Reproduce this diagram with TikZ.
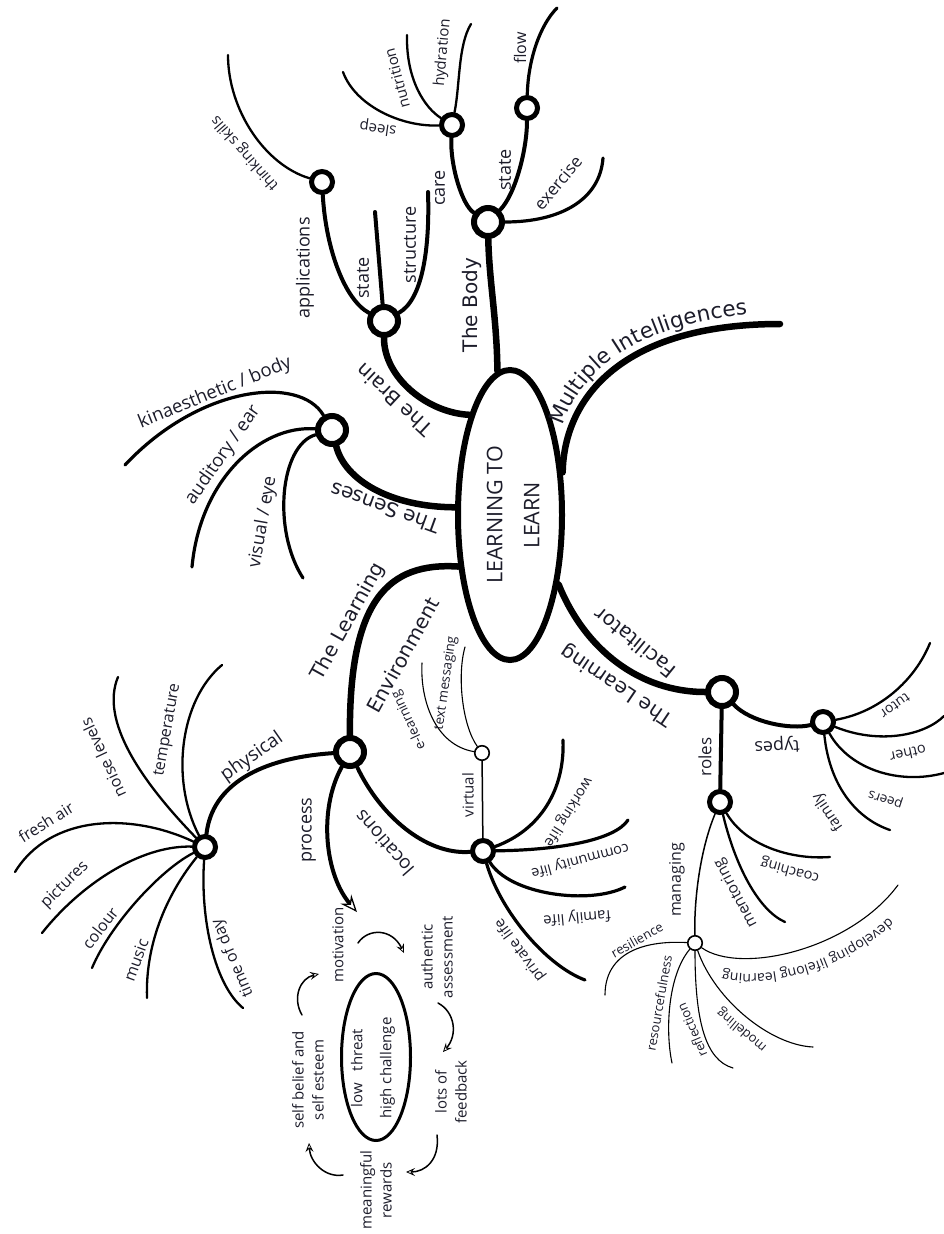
\documentclass[tikz,border=0pt]{standalone}
\usepackage{fontspec}
\newfontfamily\osans{Open Sans}
\newfontfamily\dsans{DejaVu Sans}
\usetikzlibrary{arrows.meta,shapes.geometric,backgrounds,decorations.text}
\definecolor{ink}{HTML}{1C1C2A}
\begin{document}
\begin{tikzpicture}[x=1pt,y=-1pt,
  main/.style={line width=6.5pt, line cap=round},
  sub/.style={line width=4pt, line cap=round},
  mid/.style={line width=3.2pt, line cap=round},
  leaf/.style={line width=2.3pt, line cap=round},
  thin/.style={line width=1.5pt, line cap=round},
  hair/.style={line width=1.1pt, line cap=round},
  hubbig/.style={circle, draw, fill=white, line width=6pt, minimum size=28pt, inner sep=0pt},
  hubmed/.style={circle, draw, fill=white, line width=5pt, minimum size=21pt, inner sep=0pt},
  hubsml/.style={circle, draw, fill=white, line width=1.6pt, minimum size=14.5pt, inner sep=0pt},
  lab/.style={font=\osans\fontsize{#1}{#1}\selectfont, inner sep=0pt, text=ink},
  big/.style={font=\dsans\fontsize{20}{22}\selectfont, inner sep=0pt, text=ink},
  cyclab/.style={font=\osans\fontsize{15}{20}\selectfont, inner sep=0pt, text=ink, align=center, rotate=90},
  bigtip/.style={-{Stealth[fill=white, line width=1.3pt, length=17pt, width=14pt, inset=6pt]}},
  smalltip/.style={-{Stealth[fill=white, line width=0.8pt, length=9pt, width=8pt, inset=3.5pt]}}
]
\useasboundingbox (0,0) rectangle (944,1234);

% ---------- central node ----------
\node[ellipse, draw, line width=6pt, fill=white, minimum width=104pt, minimum height=290pt] (ctr) at (510,515) {};
\node[rotate=90, font=\osans\fontsize{21.5}{37}\selectfont, align=center, text=ink, inner sep=0pt] (ctrt) at (513,515) {LEARNING TO\\LEARN};

% ---------- hubs ----------
\node[hubbig] (body) at (488,222) {};
\node[hubbig] (brain) at (384,321) {};
\node[hubbig] (senses) at (332,430) {};
\node[hubbig] (env) at (350,752) {};
\node[hubbig] (facil) at (722,692) {};
\node[hubmed] (sleepc) at (452,125) {};
\node[hubmed] (flowc) at (527,108) {};
\node[hubmed] (thinkc) at (322,182) {};
\node[hubmed] (physc) at (205,847) {};
\node[hubmed] (locc) at (483,851) {};
\node[hubmed] (typesc) at (823,722) {};
\node[hubmed] (rolesc) at (720,802) {};
\node[hubsml] (virc) at (482,753) {};
\node[hubsml] (manc) at (695,943) {};
\node[ellipse, draw, line width=3pt, minimum width=69pt, minimum height=167pt] (cyc) at (376,1057) {};

% ---------- free ends ----------
\coordinate (exE) at (603,158);
\coordinate (flowE) at (557,8);
\coordinate (sleepE) at (343,72);
\coordinate (nutE) at (407,35);
\coordinate (hydE) at (471,24);
\coordinate (bstE) at (375,212);
\coordinate (strE) at (428,192);
\coordinate (thE) at (228,55);
\coordinate (kinE) at (125,465);
\coordinate (audE) at (192,567);
\coordinate (visE) at (303,578);
\coordinate (miE) at (780,324);
\coordinate (frE) at (15,872);
\coordinate (picE) at (42,933);
\coordinate (colE) at (92,968);
\coordinate (musE) at (147,998);
\coordinate (timeE) at (243,1008);
\coordinate (noiE) at (118,677);
\coordinate (tempE) at (222,665);
\coordinate (procE) at (357,912);
\coordinate (workE) at (563,740);
\coordinate (comE) at (628,820);
\coordinate (famE) at (625,887);
\coordinate (privE) at (585,980);
\coordinate (elE) at (422,663);
\coordinate (txE) at (465,647);
\coordinate (tutE) at (930,643);
\coordinate (oE1) at (944,716);
\coordinate (oE2) at (944,773);
\coordinate (peE) at (890,830);
\coordinate (coaE) at (830,857);
\coordinate (menE) at (785,922);
\coordinate (resE) at (605,995);
\coordinate (rsfE) at (672,1063);
\coordinate (refE) at (733,1068);
\coordinate (modE) at (813,1047);
\coordinate (devE) at (898,885);
\coordinate (a1s) at (358,943);  \coordinate (a1e) at (404,953);
\coordinate (a2s) at (438,1003); \coordinate (a2e) at (443,1052);
\coordinate (a3s) at (437,1135); \coordinate (a3e) at (406,1172);
\coordinate (a4s) at (343,1175); \coordinate (a4e) at (309,1143);
\coordinate (a5s) at (302,1015); \coordinate (a5e) at (319,974);

% ---------- connectors ----------
\begin{pgfonlayer}{background}
% main branches
\draw[main] (ctr.95) .. controls (497,320) and (489,280) .. (body);
\draw[main] (ctr.112) .. controls (428,413) and (384,378) .. (brain);
\draw[main] (ctr.172) .. controls (390,507) and (345,480) .. (senses);
\draw[main] (ctr.225) .. controls (388,562) and (349,600) .. (env);
\draw[main] (ctr.-55) .. controls (585,650) and (640,692) .. (facil);
\draw[main] (ctr.39) .. controls (564,398) and (622,324) .. (miE);
% the body
\draw[sub] (body) .. controls (462,205) and (450,165) .. (sleepc);
\draw[sub] (body) .. controls (515,195) and (527,150) .. (flowc);
\draw[mid] (body) .. controls (560,222) and (600,200) .. (exE);
\draw[mid] (flowc) .. controls (528,60) and (540,25) .. (flowE);
\draw[leaf] (sleepc) .. controls (400,127) and (355,105) .. (sleepE);
\draw[leaf] (sleepc) .. controls (425,108) and (406,80) .. (nutE);
\draw[leaf] (sleepc) .. controls (460,85) and (458,45) .. (hydE);
% the brain
\draw[sub] (brain) .. controls (345,300) and (326,250) .. (thinkc);
\draw[sub] (brain) -- (bstE);
\draw[sub] (brain) .. controls (422,300) and (430,250) .. (strE);
\draw[leaf] (thinkc) .. controls (265,165) and (228,110) .. (thE);
% the senses
\draw[mid] (senses) .. controls (300,375) and (200,385) .. (kinE);
\draw[mid] (senses) .. controls (260,425) and (200,480) .. (audE);
\draw[mid] (senses) .. controls (280,445) and (272,530) .. (visE);
% the learning environment
\draw[sub] (env) .. controls (260,758) and (212,785) .. (physc);
\draw[sub, bigtip] (env) .. controls (318,810) and (325,875) .. (procE);
\draw[sub] (env) .. controls (380,815) and (425,855) .. (locc);
\draw[leaf] (physc) .. controls (130,812) and (50,815) .. (frE);
\draw[leaf] (physc) .. controls (140,845) and (80,885) .. (picE);
\draw[leaf] (physc) .. controls (160,870) and (110,925) .. (colE);
\draw[leaf] (physc) .. controls (170,890) and (145,940) .. (musE);
\draw[leaf] (physc) .. controls (200,920) and (215,985) .. (timeE);
\draw[leaf] (physc) .. controls (140,780) and (100,720) .. (noiE);
\draw[leaf] (physc) .. controls (170,780) and (180,700) .. (tempE);
\draw[thin] (locc) -- (virc);
\draw[mid] (locc) .. controls (540,830) and (565,790) .. (workE);
\draw[mid] (locc) .. controls (560,850) and (615,840) .. (comE);
\draw[mid] (locc) .. controls (510,895) and (590,905) .. (famE);
\draw[mid] (locc) .. controls (500,910) and (545,965) .. (privE);
\draw[hair] (virc) .. controls (435,745) and (420,700) .. (elE);
\draw[hair] (virc) .. controls (462,725) and (457,675) .. (txE);
% process cycle
\draw[thin, smalltip] (a1s) .. controls (368,928) and (392,928) .. (a1e);
\draw[thin, smalltip] (a2s) .. controls (455,1012) and (458,1035) .. (a2e);
\draw[thin, smalltip] (a3s) .. controls (440,1160) and (425,1172) .. (a3e);
\draw[thin, smalltip] (a4s) .. controls (325,1178) and (310,1162) .. (a4e);
\draw[thin, smalltip] (a5s) .. controls (292,998) and (300,978) .. (a5e);
% the learning facilitator
\draw[sub] (facil) -- (rolesc);
\draw[sub] (facil) .. controls (750,722) and (790,730) .. (typesc);
\draw[leaf] (typesc) .. controls (880,712) and (915,680) .. (tutE);
\draw[leaf] (typesc) .. controls (880,745) and (925,735) .. (oE1);
\draw[leaf] (typesc) .. controls (850,770) and (900,785) .. (oE2);
\draw[leaf] (typesc) .. controls (830,790) and (860,820) .. (peE);
\draw[leaf] (rolesc) .. controls (745,845) and (790,860) .. (coaE);
\draw[leaf] (rolesc) .. controls (735,865) and (758,910) .. (menE);
\draw[thin] (rolesc) .. controls (700,850) and (694,900) .. (manc);
\draw[hair] (manc) .. controls (640,940) and (605,955) .. (resE);
\draw[hair] (manc) .. controls (668,975) and (665,1030) .. (rsfE);
\draw[hair] (manc) .. controls (695,1020) and (705,1060) .. (refE);
\draw[hair] (manc) .. controls (715,1000) and (770,1045) .. (modE);
\draw[hair] (manc) .. controls (740,975) and (850,950) .. (devE);
\end{pgfonlayer}

% ---------- main branch labels ----------
\node[big, rotate=90] (lBody) at (472,305) {The Body};
\node[big, rotate=137] (lBrain) at (394,400) {The Brain};
\node[big, rotate=160] (lSenses) at (385,508) {The Senses};
\path[decorate, decoration={text along path, text align=center, text color=ink,
  text={|\dsans\fontsize{21.5}{24}\selectfont|Multiple Intelligences}}]
  (556,470) .. controls (556,392) and (616,314) .. (792,312);
\node[big, rotate=61] (lEnv1) at (348,622) {The Learning};
\node[big, rotate=61] (lEnv2) at (403,655) {Environment};
\node[big, rotate=141] (lFac2) at (635,643) {Facilitator};
\node[big, rotate=146] (lFac1) at (617,685) {The Learning};

% ---------- body labels ----------
\node[lab=18, rotate=90] (lCare) at (440,188) {care};
\node[lab=18, rotate=90] (lState) at (505,170) {state};
\node[lab=17, rotate=50] (lExer) at (558,183) {exercise};
\node[lab=16, rotate=90] (lFlow) at (520,48) {flow};
\node[lab=15, rotate=172] (lSleep) at (378,128) {sleep};
\node[lab=15, rotate=105] (lNut) at (397,78) {nutrition};
\node[lab=15, rotate=85] (lHyd) at (443,53) {hydration};
% brain labels
\node[lab=18, rotate=90] (lApp) at (305,268) {applications};
\node[lab=18, rotate=90] (lBst) at (363,278) {state};
\node[lab=18, rotate=90] (lStr) at (410,245) {structure};
\node[lab=15, rotate=131] (lThink) at (245,153) {thinking skills};
% senses labels
\node[lab=18.5, rotate=22] (lKin) at (215,393) {kinaesthetic / body};
\node[lab=18.5, rotate=55] (lAud) at (223,455) {auditory / ear};
\node[lab=18, rotate=80] (lVis) at (263,522) {visual / eye};
% environment labels
\node[lab=19, rotate=35] (lPhys) at (252,757) {physical};
\node[lab=18, rotate=90] (lProc) at (309,830) {process};
\node[lab=19, rotate=131] (lLoc) at (384,843) {locations};
\node[lab=16, rotate=32] (lFresh) at (46,822) {fresh air};
\node[lab=16, rotate=45] (lPic) at (65,885) {pictures};
\node[lab=16, rotate=52] (lCol) at (100,928) {colour};
\node[lab=16, rotate=70] (lMus) at (136,960) {music};
\node[lab=16, rotate=113] (lTime) at (233,958) {time of day};
\node[lab=16, rotate=115] (lNoise) at (103,758) {noise levels};
\node[lab=16, rotate=80] (lTemp) at (168,730) {temperature};
\node[lab=15, rotate=90] (lVirt) at (468,795) {virtual};
\node[lab=14.5, rotate=-122] (lWork) at (568,812) {working life};
\node[lab=14.5, rotate=195] (lCom) at (580,860) {community life};
\node[lab=15, rotate=185] (lFamL) at (577,917) {family life};
\node[lab=15, rotate=126] (lPriv) at (520,950) {private life};
\node[lab=13.5, rotate=115] (lEl) at (409,720) {e-learning};
\node[lab=13.5, rotate=82] (lTxt) at (446,683) {text messaging};
% process cycle labels
\node[cyclab] (lMot) at (338,945) {motivation};
\node[cyclab] (lAuth) at (437,957) {authentic\\assessment};
\node[cyclab] (lLots) at (451,1092) {lots of\\feedback};
\node[cyclab] (lMean) at (376,1190) {meaningful\\rewards};
\node[cyclab] (lSelf) at (308,1080) {self belief and\\self esteem};
\node[cyclab, font=\osans\fontsize{15}{29}\selectfont] (lLow) at (373,1068) {low\hspace{0.8em}threat\\high challenge};
% facilitator labels
\node[lab=17, rotate=90] (lRoles) at (705,757) {roles};
\node[lab=18, rotate=183] (lTypes) at (777,745) {types};
\node[lab=14, rotate=215] (lTutor) at (895,706) {tutor};
\node[lab=14.5, rotate=192] (lOther) at (908,754) {other};
\node[lab=13.5, rotate=162] (lPeers) at (886,798) {peers};
\node[lab=15, rotate=124] (lFam) at (828,812) {family};
\node[lab=14.5, rotate=165] (lCoach) at (790,870) {coaching};
\node[lab=15.5, rotate=118] (lMent) at (736,893) {mentoring};
\node[lab=16, rotate=90] (lMan) at (677,880) {managing};
\node[lab=13, rotate=29] (lRes) at (637,940) {resilience};
\node[lab=13, rotate=80] (lRsf) at (659,1003) {resourcefulness};
\node[lab=13, rotate=113] (lRef) at (692,1030) {reflection};
\node[lab=13, rotate=140] (lMod) at (742,1030) {modelling};
\path[decorate, decoration={text along path, text align=center, text color=ink,
  text={|\osans\fontsize{14}{14}\selectfont|developing lifelong learning}}]
  (906,899) .. controls (853,966) and (742,992) .. (700,961);
\end{tikzpicture}
\end{document}
